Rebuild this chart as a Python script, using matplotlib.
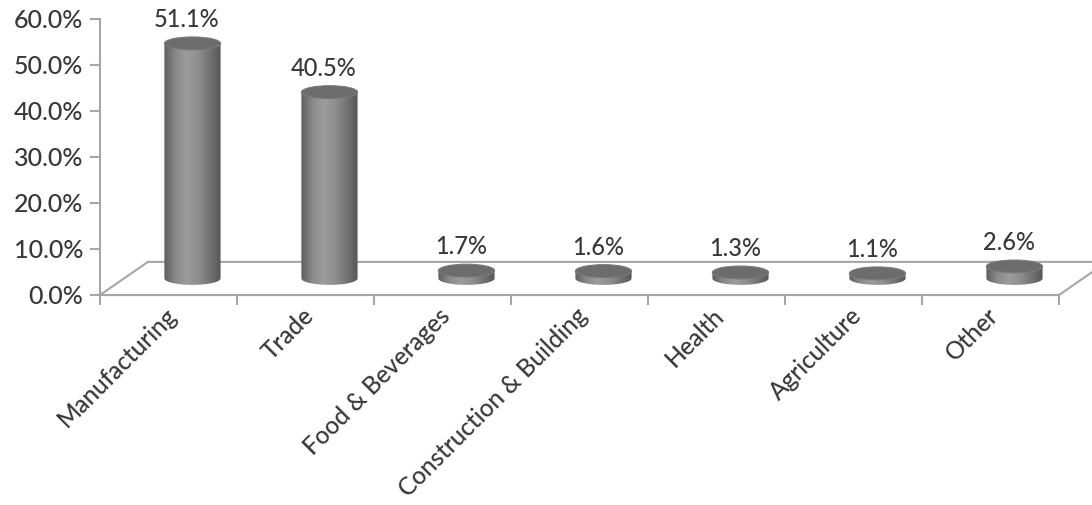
import numpy as np
import matplotlib.pyplot as plt
from matplotlib.patches import Ellipse, Polygon, PathPatch
from matplotlib.path import Path
from matplotlib.colors import LinearSegmentedColormap
import matplotlib.transforms as mtransforms

categories = ["Manufacturing", "Trade", "Food & Beverages", "Construction & Building",
              "Health", "Agriculture", "Other"]
values = [51.1, 40.5, 1.7, 1.6, 1.3, 1.1, 2.6]
yticks = [0, 10, 20, 30, 40, 50, 60]

plt.rcParams['font.family'] = ['Lato', 'DejaVu Sans']
plt.rcParams['font.weight'] = 'medium'
TXT = '#383838'
AX = '#a6a6a6'

fig = plt.figure(figsize=(10.92, 5.05), dpi=100)
ax = fig.add_axes([100 / 1092, 210 / 505, 959 / 1092, 276 / 505])
ax.set_xlim(0, len(categories))
ax.set_ylim(0, 60)

# fake 3d depth (in data units)
depth_x = 0.35
depth_y = 7.2
cyl_w = 0.41
ell_h = 2.8

for s in ['top', 'right']:
    ax.spines[s].set_visible(False)
for s in ['left', 'bottom']:
    ax.spines[s].set_color(AX)
    ax.spines[s].set_linewidth(1.5)

ax.set_yticks(yticks)
ax.set_yticklabels([f"{t:.1f}%" for t in yticks], fontsize=18, color=TXT)
ax.set_xticks(range(len(categories) + 1))
ax.set_xticklabels([])
ax.tick_params(axis='both', colors=AX, width=1.5, length=7, direction='out')
ax.tick_params(axis='y', labelcolor=TXT, pad=5)

# floor
n = len(categories)
floor = Polygon([(0, 0), (n, 0), (n + depth_x, depth_y), (depth_x, depth_y)],
                closed=True, facecolor='white', edgecolor=AX, lw=1.5,
                clip_on=False, zorder=1)
ax.add_patch(floor)

cmap = LinearSegmentedColormap.from_list(
    'cyl', ['#5e5e5e', '#8a8a8a', '#9c9c9c', '#8f8f8f', '#747474', '#575757'])
grad = np.linspace(0, 1, 200).reshape(1, -1)

for i, v in enumerate(values):
    xc = i + 0.5 + depth_x / 2
    y0 = depth_y / 2
    y1 = y0 + v
    xl, xr = xc - cyl_w / 2, xc + cyl_w / 2
    t = np.linspace(np.pi, 2 * np.pi, 40)
    bottom = np.column_stack([xc + cyl_w / 2 * np.cos(t), y0 + ell_h / 2 * np.sin(t)])
    verts = np.vstack([[xl, y1], bottom, [xr, y1], [xl, y1]])
    body = PathPatch(Path(verts, closed=True), facecolor='none', edgecolor='none',
                     clip_on=False, zorder=3)
    ax.add_patch(body)
    im = ax.imshow(grad, cmap=cmap, aspect='auto', extent=[xl, xr, y0 - ell_h / 2, y1],
                   zorder=3, interpolation='bilinear')
    im.set_clip_path(body)
    top = Ellipse((xc, y1), cyl_w, ell_h, facecolor='#6c6c6c', edgecolor='#7a7a7a',
                  lw=0.8, zorder=4, clip_on=False)
    ax.add_patch(top)
    ax.annotate(f"{v:.1f}%", (xc - 0.04, y1), xytext=(0, 9), textcoords='offset points',
                ha='center', va='bottom', fontsize=17, color=TXT, zorder=5,
                annotation_clip=False)

ax.set_xlim(0, n)
ax.set_ylim(0, 60)

# rotated category labels
off = mtransforms.ScaledTranslation(0, -17 / 100, fig.dpi_scale_trans)
for i, c in enumerate(categories):
    ax.text(i + 0.53, 0, c, transform=ax.transData + off, rotation=45,
            rotation_mode='anchor', ha='right', va='center', fontsize=17.5, color=TXT)

fig.savefig('out.png', dpi=100)
